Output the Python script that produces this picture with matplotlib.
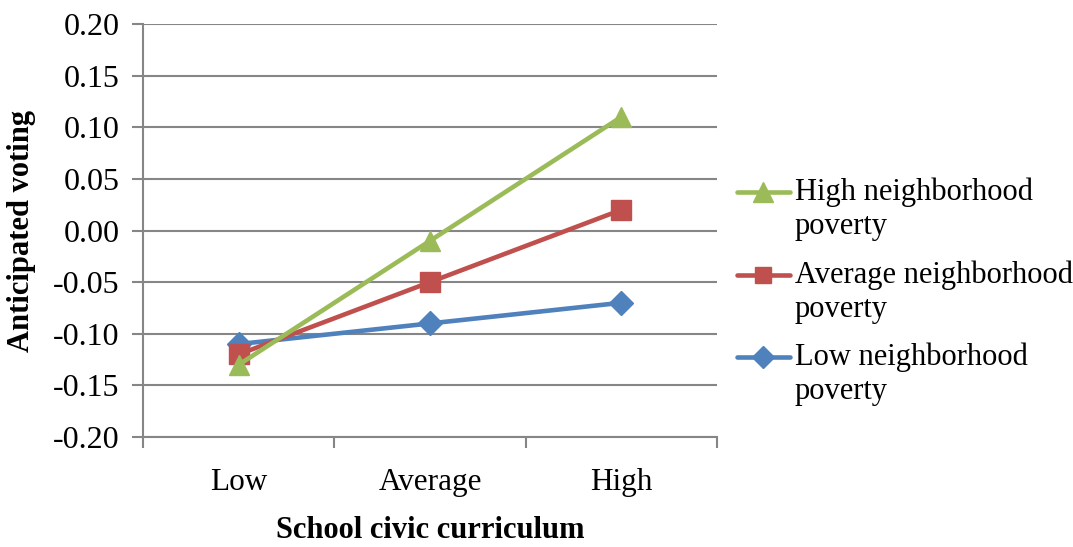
import matplotlib
matplotlib.use("Agg")
import matplotlib.pyplot as plt
from matplotlib.lines import Line2D

categories = ["Low", "Average", "High"]
series_names = ["High neighborhood\npoverty",
                "Average neighborhood\npoverty",
                "Low neighborhood\npoverty"]
high_poverty = [-0.13, -0.01, 0.11]
avg_poverty = [-0.12, -0.05, 0.02]
low_poverty = [-0.11, -0.09, -0.07]
y_ticks = [0.20, 0.15, 0.10, 0.05, 0.00, -0.05, -0.10, -0.15, -0.20]

colors = ["#9BBB59", "#C0504D", "#4F81BD"]
markers = ["^", "s", "D"]
msizes = [15, 14, 12]
legend_msizes = [14, 12, 11]
grid_col = "#868686"

plt.rcParams["font.family"] = ["Liberation Serif", "DejaVu Serif"]

W, H = 1073, 547
fig = plt.figure(figsize=(W / 100, H / 100), dpi=100)
ax = fig.add_axes([143 / W, 1 - 437 / H, (717 - 143) / W, (437 - 24) / H])

x = list(range(len(categories)))
# draw the low series first so the high series ends on top at the left
for vals, c, m, ms in list(zip([high_poverty, avg_poverty, low_poverty],
                               colors, markers, msizes))[::-1]:
    ax.plot(x, vals, color=c, lw=3.3, marker=m, markersize=ms,
            markeredgecolor=c, solid_capstyle="round", zorder=3)

ax.set_xlim(-0.5, 2.5)
ax.set_ylim(-0.20, 0.20)
ax.set_yticks(y_ticks)
ax.set_yticklabels([f"{v:.2f}" for v in y_ticks])
ax.yaxis.grid(True, color=grid_col, lw=1.5)
ax.set_axisbelow(True)

ax.set_xticks(x)
ax.set_xticklabels(categories)
ax.set_xticks([-0.5, 0.5, 1.5, 2.5], minor=True)
ax.tick_params(axis="x", which="major", length=0, pad=22, labelsize=22.5)
ax.tick_params(axis="x", which="minor", length=8, width=1.5, color=grid_col)
ax.tick_params(axis="y", length=8, width=1.5, color=grid_col, labelsize=23, pad=9)

for s in ["top", "right"]:
    ax.spines[s].set_visible(False)
for s in ["left", "bottom"]:
    ax.spines[s].set_color(grid_col)
    ax.spines[s].set_linewidth(1.5)

ax.set_ylabel("Anticipated voting", fontsize=22, fontweight="bold", va="center")
ax.yaxis.set_label_coords((22 - 143) / 574, 0.5)
ax.set_xlabel("School civic curriculum", fontsize=22, fontweight="bold", va="center")
ax.xaxis.set_label_coords(0.5, (437 - 531) / 413)

# legend drawn beside the plot, marker aligned with the first text line
first_line_y = [192, 275, 357]
line_gap = 35
for name, c, m, ms, yy in zip(series_names, colors, markers, legend_msizes, first_line_y):
    yf = 1 - yy / H
    fig.add_artist(Line2D([737 / W, 790 / W], [yf, yf], transform=fig.transFigure,
                          color=c, lw=3.3, solid_capstyle="round"))
    fig.add_artist(Line2D([763 / W], [yf], transform=fig.transFigure,
                          marker=m, markersize=ms, color=c, markeredgecolor=c))
    fig.text(795 / W, 1 - (yy + line_gap / 2) / H, name, fontsize=22,
             va="center", ha="left", linespacing=1.22)

fig.savefig("out.png", dpi=100)
